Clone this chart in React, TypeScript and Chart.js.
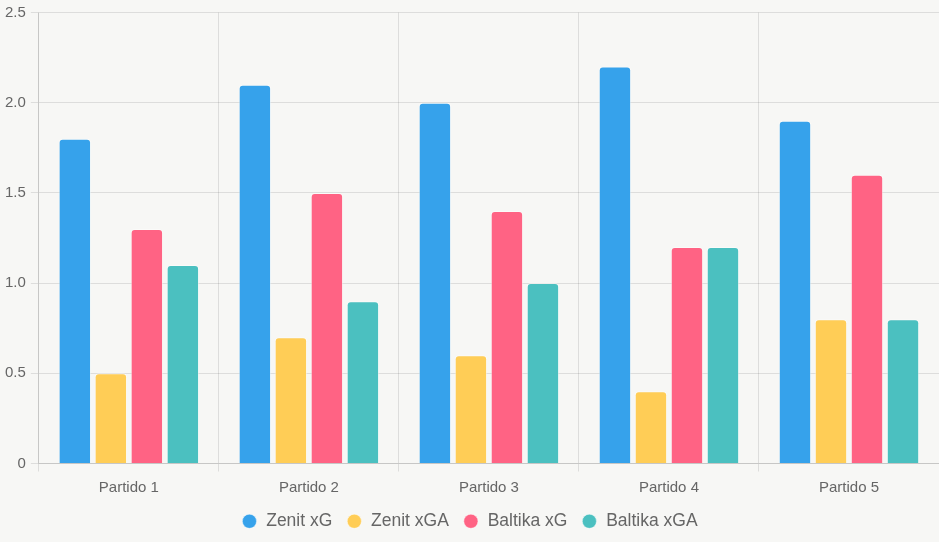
import React, { useEffect, useRef } from "react";
import { Chart, registerables } from "chart.js";

Chart.register(...registerables);

const categories = ["Partido 1", "Partido 2", "Partido 3", "Partido 4", "Partido 5"];
const zenitXG = [1.8, 2.1, 2.0, 2.2, 1.9];
const zenitXGA = [0.5, 0.7, 0.6, 0.4, 0.8];
const baltikaXG = [1.3, 1.5, 1.4, 1.2, 1.6];
const baltikaXGA = [1.1, 0.9, 1.0, 1.2, 0.8];
const seriesNames = ["Zenit xG", "Zenit xGA", "Baltika xG", "Baltika xGA"];
const colors = ["#36A2EB", "#FFCD56", "#FF6384", "#4BC0C0"];

const FAMILY = "'Liberation Sans', Arial, sans-serif";

export default function App() {
  const ref = useRef<HTMLCanvasElement | null>(null);
  useEffect(() => {
    document.body.style.margin = "0";
    document.body.style.background = "#f7f7f5";
    const ctx = ref.current!;
    const data = [zenitXG, zenitXGA, baltikaXG, baltikaXGA];
    const chart = new Chart(ctx, {
      type: "bar",
      data: {
        labels: categories,
        datasets: data.map((d, i) => ({
          label: seriesNames[i],
          data: d,
          backgroundColor: colors[i],
          borderColor: "rgba(255,255,255,0.45)",
          borderWidth: 1,
          borderRadius: 4,
        })),
      },
      options: {
        animation: false,
        responsive: false,
        maintainAspectRatio: false,
        layout: { padding: { top: 0, left: 0, right: 0, bottom: 2 } },
        scales: {
          x: {
            grid: { color: "rgba(0,0,0,0.1)" },
            ticks: { color: "#666", padding: 7, font: { size: 15, family: FAMILY } },
            afterFit: (s: any) => {
              s.height -= 5;
            },
          },
          y: {
            min: 0,
            max: 2.5,
            grid: { color: "rgba(0,0,0,0.1)" },
            ticks: {
              stepSize: 0.5,
              padding: 5,
              color: "#666",
              font: { size: 15, family: FAMILY, lineHeight: 1 },
            },
          },
        },
        plugins: {
          legend: {
            position: "bottom",
            labels: {
              usePointStyle: true,
              pointStyle: "circle",
              boxWidth: 16,
              boxHeight: 10,
              padding: 14,
              color: "#666",
              font: { size: 17.5, family: FAMILY },
            },
          },
          tooltip: { enabled: false },
        },
      } as any,
    });
    return () => chart.destroy();
  }, []);
  return (
    <div style={{ position: "fixed", left: 0, top: 0, width: 939, height: 542, background: "#f7f7f5" }}>
      <canvas ref={ref} width={939} height={542} style={{ display: "block" }} />
    </div>
  );
}
